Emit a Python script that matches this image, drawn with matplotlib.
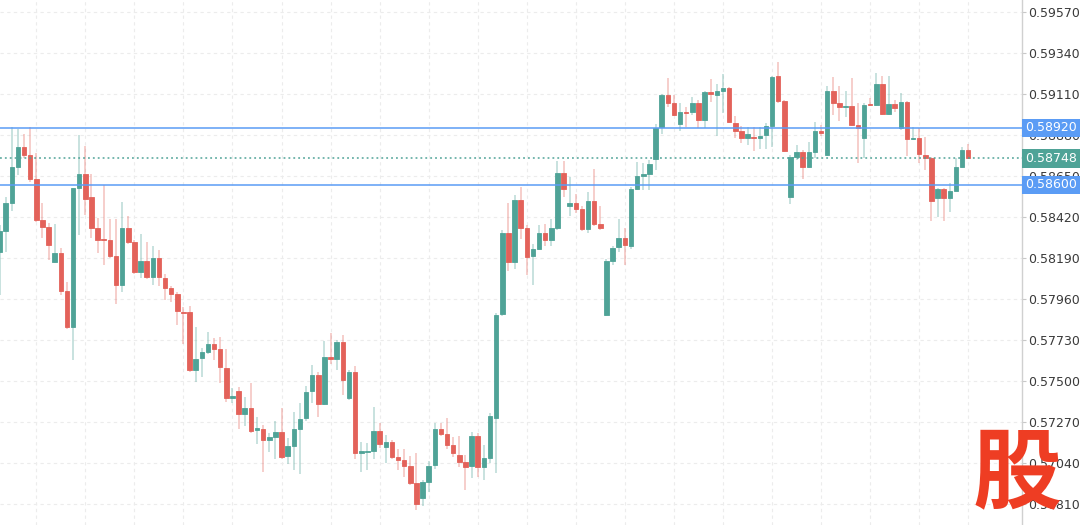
import matplotlib
matplotlib.use("Agg")
import matplotlib.pyplot as plt
import matplotlib.transforms as mtransforms
import numpy as np

opens = [
    0.58224, 0.58341, 0.58499, 0.58701, 0.58813, 0.58768, 0.58633, 0.58403, 0.58364, 0.58168,
    0.58218, 0.58005, 0.57803, 0.58583, 0.58661, 0.58532, 0.58358, 0.58297, 0.58291, 0.58201,
    0.58039, 0.58358, 0.58280, 0.58111, 0.58173, 0.58083, 0.58190, 0.58078, 0.58022, 0.57988,
    0.57887, 0.57887, 0.57562, 0.57629, 0.57663, 0.57708, 0.57680, 0.57573, 0.57405, 0.57444,
    0.57315, 0.57349, 0.57225, 0.57231, 0.57169, 0.57186, 0.57214, 0.57079, 0.57135, 0.57231,
    0.57292, 0.57444, 0.57534, 0.57371, 0.57635, 0.57623, 0.57719, 0.57405, 0.57550, 0.57096,
    0.57102, 0.57107, 0.57220, 0.57130, 0.57158, 0.57074, 0.57057, 0.57023, 0.56928, 0.56844,
    0.56933, 0.57029, 0.57231, 0.57203, 0.57141, 0.57085, 0.57046, 0.57023, 0.57191, 0.57018,
    0.57068, 0.57292, 0.57876, 0.58330, 0.58168, 0.58515, 0.58358, 0.58201, 0.58241, 0.58330,
    0.58291, 0.58358, 0.58667, 0.58482, 0.58499, 0.58465, 0.58353, 0.58510, 0.58381, 0.57870,
    0.58173, 0.58252, 0.58302, 0.58257, 0.58577, 0.58650, 0.58661, 0.58745, 0.58925, 0.59104,
    0.59060, 0.58942, 0.59009, 0.59009, 0.59060, 0.58964, 0.59121, 0.59104, 0.59127, 0.59144,
    0.58947, 0.58902, 0.58863, 0.58869, 0.58863, 0.58880, 0.58931, 0.59211, 0.59071, 0.58532,
    0.58757, 0.58785, 0.58701, 0.58785, 0.58902, 0.58768, 0.59127, 0.59060, 0.59037, 0.59043,
    0.58936, 0.58863, 0.59054, 0.59048, 0.59166, 0.58998, 0.59054, 0.58919, 0.59065, 0.58858,
    0.58863, 0.58768, 0.58751, 0.58527, 0.58577, 0.58527, 0.58566, 0.58701, 0.58796,
]

highs = [
    0.58375, 0.58532, 0.58925, 0.58914, 0.58886, 0.58925, 0.58779, 0.58499, 0.58386, 0.58381,
    0.58246, 0.58055, 0.58583, 0.58880, 0.58818, 0.58661, 0.58414, 0.58600, 0.58409, 0.58409,
    0.58504, 0.58426, 0.58291, 0.58325, 0.58280, 0.58257, 0.58235, 0.58100, 0.58033, 0.57999,
    0.57915, 0.57921, 0.57803, 0.57685, 0.57775, 0.57741, 0.57747, 0.57680, 0.57461, 0.57466,
    0.57410, 0.57489, 0.57298, 0.57253, 0.57208, 0.57276, 0.57349, 0.57180, 0.57326, 0.57377,
    0.57472, 0.57590, 0.57550, 0.57724, 0.57769, 0.57730, 0.57758, 0.57562, 0.57584, 0.57158,
    0.57152, 0.57354, 0.57264, 0.57197, 0.57169, 0.57119, 0.57119, 0.57079, 0.57096, 0.56945,
    0.57051, 0.57264, 0.57264, 0.57292, 0.57186, 0.57191, 0.57085, 0.57214, 0.57208, 0.57141,
    0.57320, 0.57881, 0.58347, 0.58499, 0.58543, 0.58588, 0.58375, 0.58269, 0.58375, 0.58381,
    0.58409, 0.58734, 0.58734, 0.58644, 0.58549, 0.58482, 0.58560, 0.58689, 0.58482, 0.58184,
    0.58257, 0.58409, 0.58358, 0.58588, 0.58729, 0.58723, 0.58740, 0.58942, 0.59110, 0.59200,
    0.59104, 0.59060, 0.59037, 0.59093, 0.59076, 0.59127, 0.59194, 0.59166, 0.59222, 0.59149,
    0.58987, 0.58931, 0.58925, 0.58925, 0.58925, 0.58947, 0.59211, 0.59290, 0.59076, 0.58768,
    0.58824, 0.58796, 0.58841, 0.58953, 0.58936, 0.59155, 0.59205, 0.59155, 0.59127, 0.59200,
    0.59060, 0.59060, 0.59088, 0.59228, 0.59211, 0.59211, 0.59076, 0.59116, 0.59071, 0.58925,
    0.58919, 0.58869, 0.58757, 0.58583, 0.58583, 0.58611, 0.58751, 0.58813, 0.58830,
]

lows = [
    0.57982, 0.58224, 0.58454, 0.58656, 0.58751, 0.58616, 0.58392, 0.58302, 0.58179, 0.58162,
    0.57982, 0.57792, 0.57618, 0.58319, 0.58431, 0.58302, 0.58218, 0.58151, 0.58190, 0.57932,
    0.57999, 0.58269, 0.58100, 0.58078, 0.58072, 0.58039, 0.58033, 0.57954, 0.57943, 0.57814,
    0.57708, 0.57550, 0.57494, 0.57522, 0.57651, 0.57618, 0.57489, 0.57382, 0.57377, 0.57231,
    0.57248, 0.57208, 0.57147, 0.56990, 0.57102, 0.57062, 0.57062, 0.57034, 0.57001, 0.56978,
    0.57276, 0.57377, 0.57298, 0.57365, 0.57595, 0.57562, 0.57421, 0.57393, 0.57062, 0.56990,
    0.57001, 0.57062, 0.57124, 0.57040, 0.57062, 0.57001, 0.56961, 0.56917, 0.56776, 0.56799,
    0.56877, 0.57006, 0.57191, 0.57119, 0.57074, 0.57018, 0.56889, 0.56956, 0.56961, 0.56945,
    0.57040, 0.56984, 0.57865, 0.58117, 0.58128, 0.58297, 0.58095, 0.58039, 0.58235, 0.58257,
    0.58257, 0.58347, 0.58532, 0.58426, 0.58442, 0.58341, 0.58330, 0.58370, 0.58347, 0.57865,
    0.58151, 0.58224, 0.58151, 0.58241, 0.58571, 0.58571, 0.58571, 0.58684, 0.58886, 0.59037,
    0.58987, 0.58902, 0.58925, 0.58992, 0.58919, 0.58919, 0.59065, 0.58874, 0.59003, 0.58947,
    0.58863, 0.58835, 0.58824, 0.58790, 0.58801, 0.58801, 0.58813, 0.59060, 0.58785, 0.58493,
    0.58740, 0.58633, 0.58695, 0.58751, 0.58874, 0.58762, 0.58992, 0.58959, 0.58981, 0.58931,
    0.58723, 0.58751, 0.59043, 0.59043, 0.58992, 0.58992, 0.59009, 0.58908, 0.58762, 0.58852,
    0.58723, 0.58684, 0.58398, 0.58420, 0.58398, 0.58448, 0.58616, 0.58695, 0.58745,
]

closes = [
    0.58341, 0.58499, 0.58701, 0.58813, 0.58768, 0.58633, 0.58403, 0.58364, 0.58263, 0.58218,
    0.58005, 0.57803, 0.58583, 0.58661, 0.58521, 0.58358, 0.58291, 0.58291, 0.58201, 0.58039,
    0.58358, 0.58280, 0.58111, 0.58173, 0.58083, 0.58190, 0.58083, 0.58022, 0.57988, 0.57893,
    0.57881, 0.57562, 0.57623, 0.57663, 0.57708, 0.57680, 0.57579, 0.57405, 0.57416, 0.57315,
    0.57349, 0.57220, 0.57236, 0.57169, 0.57186, 0.57214, 0.57074, 0.57135, 0.57231, 0.57287,
    0.57438, 0.57534, 0.57371, 0.57635, 0.57623, 0.57719, 0.57506, 0.57550, 0.57096, 0.57107,
    0.57107, 0.57220, 0.57147, 0.57158, 0.57074, 0.57057, 0.57023, 0.56928, 0.56810, 0.56933,
    0.57023, 0.57231, 0.57203, 0.57141, 0.57096, 0.57046, 0.57018, 0.57191, 0.57018, 0.57068,
    0.57304, 0.57870, 0.58330, 0.58168, 0.58515, 0.58358, 0.58196, 0.58241, 0.58330, 0.58291,
    0.58358, 0.58667, 0.58577, 0.58499, 0.58465, 0.58353, 0.58510, 0.58381, 0.58358, 0.58173,
    0.58246, 0.58302, 0.58263, 0.58577, 0.58650, 0.58661, 0.58717, 0.58919, 0.59104, 0.59060,
    0.58992, 0.59009, 0.59003, 0.59060, 0.58964, 0.59121, 0.59110, 0.59127, 0.59144, 0.58953,
    0.58902, 0.58863, 0.58886, 0.58863, 0.58874, 0.58931, 0.59205, 0.59071, 0.58790, 0.58757,
    0.58785, 0.58701, 0.58785, 0.58902, 0.58891, 0.59127, 0.59060, 0.59037, 0.59043, 0.58936,
    0.58919, 0.59048, 0.59048, 0.59166, 0.58998, 0.59054, 0.59031, 0.59065, 0.58858, 0.58863,
    0.58773, 0.58751, 0.58510, 0.58577, 0.58527, 0.58566, 0.58701, 0.58796, 0.58748,
]

yticks = [0.59570, 0.59340, 0.59110, 0.58880, 0.58650, 0.58420, 0.58190,
          0.57960, 0.57730, 0.57500, 0.57270, 0.57040, 0.56810]
resistance = 0.58920
support = 0.58600
last_price = 0.58748
watermark = "股"

GREEN = "#4fa397"
RED = "#e3625a"
BLUE = "#5b9cf5"

fig = plt.figure(figsize=(10.8, 5.25), dpi=100)
fig.patch.set_facecolor("white")
ax = fig.add_axes([0, 0, 1022 / 1080, 1])

o = np.array(opens)
h = np.array(highs)
l = np.array(lows)
c = np.array(closes)
x = np.arange(len(o))
up = c >= o
cols = np.where(up, GREEN, RED)

ax.vlines(x, l, h, colors=cols, linewidth=1.1, alpha=0.4, zorder=2)
ax.bar(x, np.abs(c - o), bottom=np.minimum(o, c), width=0.74, color=cols,
       edgecolor=cols, linewidth=0.6, zorder=3)

ax.set_xlim(0.08, 166.77)
ax.set_ylim(0.56692, 0.59637)

# grid
ax.set_xticks(np.arange(6, len(o), 8))
ax.set_yticks(yticks)
ax.set_yticklabels([f"{v:.5f}" for v in yticks])
ax.grid(True, linestyle=(0, (3, 3)), color="#ececec", linewidth=0.8, zorder=0)
ax.tick_params(axis="x", length=0, labelbottom=False)
ax.yaxis.tick_right()
ax.tick_params(axis="y", length=3, width=0.8, color="#c8c8c8", pad=1.5,
               labelsize=9, labelcolor="#3a3a3a")
for s in ("top", "left", "bottom"):
    ax.spines[s].set_visible(False)
ax.spines["right"].set_color("#d0d0d0")
ax.spines["right"].set_linewidth(1.0)

# horizontal levels
ax.axhline(resistance, color=BLUE, linewidth=1.1, zorder=4)
ax.axhline(support, color=BLUE, linewidth=1.1, zorder=4)
ax.axhline(last_price, color=GREEN, linewidth=1.1, linestyle=(0, (1.2, 2)), zorder=4)

trans = mtransforms.blended_transform_factory(ax.transAxes, ax.transData)
for val, col in ((resistance, BLUE), (last_price, GREEN), (support, BLUE)):
    ax.text(1.003, val, f"{val:.5f}", transform=trans, ha="left", va="center",
            color="white", fontsize=9, clip_on=False, zorder=10,
            bbox=dict(boxstyle="square,pad=0.22", fc=col, ec="none"))

fig.text(0.942, 0.094, watermark, ha="center", va="center", fontsize=64,
         color="#ee3d23", fontweight="bold", family=["Noto Sans CJK SC", "DejaVu Sans"],
         zorder=20)

fig.savefig("out.png", dpi=100, facecolor="white")
